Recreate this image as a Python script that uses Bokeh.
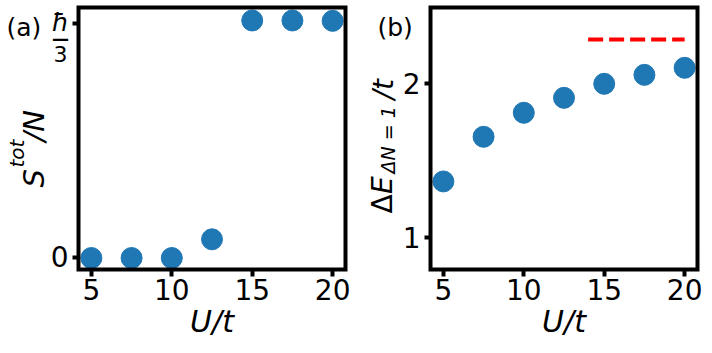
import math
from bokeh.plotting import figure
from bokeh.layouts import row
from bokeh.models import Label, FixedTicker, Range1d, BoxAnnotation
from bokeh.embed import file_html
from bokeh.resources import INLINE

# ---- data ----
U = [5, 7.5, 10, 12.5, 15, 17.5, 20]
S_per_N = [0.0, 0.0, 0.0, 0.0266, 0.338, 0.338, 0.3375]      # in units of hbar
gap = [1.366, 1.656, 1.812, 1.909, 2.0, 2.058, 2.104]          # Delta E / t
ref_U = [14, 20]
ref_gap = [2.288, 2.288]
x_ticks = [5, 10, 15, 20]
ya_ticks = [0, 1 / 3]
yb_ticks = [1, 2]

# axis limits of the two panels
xa_lim = (4.2, 20.8)
ya_lim = (-0.01637, 0.3565)
xb_lim = (4.2, 20.8)
yb_lim = (0.7942, 2.4955)

BLUE = "#1f77b4"
FONT = "DejaVu Sans"
CH = 352


def make_panel(width, box, xlim, ylim, yticks):
    """box = (left, right, top, bottom) pixel position of the axes box in the canvas."""
    L, R, T, B = box
    sx = (R - L) / (xlim[1] - xlim[0])
    sy = (B - T) / (ylim[1] - ylim[0])
    xr = Range1d(xlim[0] - L / sx, xlim[1] + (width - R) / sx)
    yr = Range1d(ylim[0] - (CH - B) / sy, ylim[1] + T / sy)
    p = figure(width=width, height=CH, x_range=xr, y_range=yr,
               output_backend="svg", toolbar_location=None,
               min_border=0, min_border_left=0, min_border_right=0,
               min_border_top=0, min_border_bottom=0)
    p.grid.visible = False
    p.outline_line_color = None
    p.add_layout(BoxAnnotation(left=xlim[0], right=xlim[1], bottom=ylim[0], top=ylim[1],
                               fill_color=None, fill_alpha=0, line_color="black",
                               line_alpha=1.0, line_width=4, line_join="miter"))
    xa, ya = p.xaxis[0], p.yaxis[0]
    xa.fixed_location = ylim[0]
    ya.fixed_location = xlim[0]
    xa.bounds = xlim
    ya.bounds = ylim
    xa.ticker = FixedTicker(ticks=x_ticks)
    ya.ticker = FixedTicker(ticks=yticks)
    for ax in (xa, ya):
        ax.axis_line_color = None
        ax.major_tick_line_color = "black"
        ax.major_tick_line_width = 4
        ax.major_tick_in = 0
        ax.minor_tick_line_color = None
        ax.major_label_text_font = FONT
        ax.major_label_text_font_size = "28px"
        ax.major_label_text_color = "black"
    xa.major_tick_out = 7
    ya.major_tick_out = 6
    xa.major_label_standoff = 2
    ya.major_label_standoff = 4
    xa.axis_label = "U/t"
    xa.axis_label_text_font = FONT
    xa.axis_label_text_font_size = "30px"
    xa.axis_label_text_font_style = "italic"
    xa.axis_label_text_color = "black"
    xa.axis_label_standoff = 1

    def add(px, py, text, size, style="normal", angle=0.0, align="left"):
        x = xr.start + px / sx
        y = yr.end - py / sy
        p.add_layout(Label(x=x, y=y, text=text, text_font=FONT,
                           text_font_size=f"{size}px", text_font_style=style,
                           text_color="black", angle=angle, text_align=align,
                           text_baseline="alphabetic"))
    return p, add


# ---- panel (a) ----
pa, la = make_panel(356, (78, 345, 7, 269), xa_lim, ya_lim, ya_ticks)
pa.yaxis[0].major_label_overrides = {0: "0", 1 / 3: " "}
pa.scatter(U, S_per_N, size=21, color=BLUE)
la(6, 27, "(a)", 25)
la(60, 22, "ħ", 25, "italic", align="center")
la(60, 38, "—", 17, "bold", align="center")
la(60, 53.5, "3", 22, align="center")
la(33, 187, "S", 29, "italic", math.pi / 2)
la(16, 167, "tot", 20, "italic", math.pi / 2)
la(33, 141, "/N", 29, "italic", math.pi / 2)

# ---- panel (b) ----
OX = 356
pb, lb = make_panel(355, (430 - OX, 697 - OX, 7, 269), xb_lim, yb_lim, yb_ticks)
pb.scatter(U, gap, size=21, color=BLUE)
pb.line(ref_U, ref_gap, line_color="red", line_width=4, line_dash="15 6")
lb(377 - OX, 27, "(b)", 25)
lb(382 - OX, 213, "Δ", 28, "normal", math.pi / 2)
lb(382 - OX, 193.5, "E", 28, "italic", math.pi / 2)
lb(387 - OX, 173, "ΔN = 1", 19, "italic", math.pi / 2)
lb(383 - OX, 99, "/t", 28, "italic", math.pi / 2)

layout = row(pa, pb)
open("out.html", "w").write(file_html(layout, INLINE))
